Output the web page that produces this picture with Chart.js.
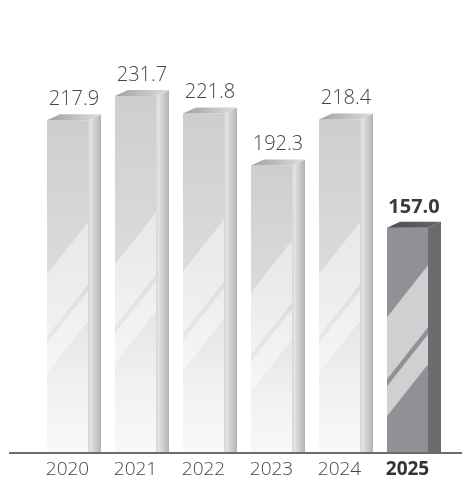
<!DOCTYPE html>
<html>
<head>
<meta charset="utf-8">
<script src="https://cdn.jsdelivr.net/npm/chart.js@4/dist/chart.umd.min.js"></script>
<style>
  html, body { margin: 0; padding: 0; background: #ffffff; }
  #wrap { width: 462px; height: 477px; position: relative; }
</style>
</head>
<body>
<div id="wrap"><canvas id="c" width="462" height="477"></canvas></div>
<script>
// Annual values
const years = ['2020', '2021', '2022', '2023', '2024', '2025'];
const values = [217.9, 231.7, 221.8, 192.3, 218.4, 157.0];
const valueLabels = ['217.9', '231.7', '221.8', '192.3', '218.4', '157.0'];
const highlightIndex = 5;

const DEPTH_X = 13;
const DEPTH_Y = 6;

function frontFill(c) {
  const chart = c.chart;
  if (!chart.chartArea || c.raw === undefined) return '#d0d1d3';
  const top = chart.scales.y.getPixelForValue(c.raw);
  const bottom = chart.chartArea.bottom;
  if (c.dataIndex === highlightIndex) return '#909194';
  const g = chart.ctx.createLinearGradient(0, top, 0, bottom);
  g.addColorStop(0, '#cdced0');
  g.addColorStop(0.45, '#dadbdd');
  g.addColorStop(0.8, '#f1f1f2');
  g.addColorStop(1, '#f8f8f9');
  return g;
}

// Side face, top face, glass streaks and value labels on top of each bar
const bar3d = {
  id: 'bar3d',
  afterDatasetsDraw(chart) {
    const ctx = chart.ctx;
    const area = chart.chartArea;
    const meta = chart.getDatasetMeta(0);
    meta.data.forEach((bar, i) => {
      const p = bar.getProps(['x', 'y', 'base', 'width'], true);
      const L = p.x - p.width / 2, R = p.x + p.width / 2;
      const T = p.y, B = Math.min(p.base, area.bottom);
      const h = B - T;
      const dark = i === highlightIndex;
      ctx.save();

      // streaks on the front face
      ctx.save();
      ctx.beginPath();
      ctx.rect(L, T, p.width, h);
      ctx.clip();
      const t1 = 0.4 * h + 97;
      const run = 52;
      const bands = [[t1, t1 - 62], [t1 - 69, t1 - 99]];
      bands.forEach(([a, b]) => {
        ctx.beginPath();
        ctx.moveTo(R, B - a);
        ctx.lineTo(L, B - a + run);
        ctx.lineTo(L, B - b + run);
        ctx.lineTo(R, B - b);
        ctx.closePath();
        ctx.fillStyle = dark ? '#cfd0d2' : 'rgba(255,255,255,0.45)';
        ctx.fill();
      });
      ctx.restore();

      // side face
      const sg = ctx.createLinearGradient(R, 0, R + DEPTH_X, 0);
      if (dark) {
        sg.addColorStop(0, '#6c6d70');
        sg.addColorStop(1, '#68696c');
      } else {
        sg.addColorStop(0, '#d4d5d7');
        sg.addColorStop(0.2, '#e4e4e6');
        sg.addColorStop(0.6, '#c9cacc');
        sg.addColorStop(1, '#b3b4b7');
      }
      ctx.beginPath();
      ctx.moveTo(R, T);
      ctx.lineTo(R + DEPTH_X, T - DEPTH_Y);
      ctx.lineTo(R + DEPTH_X, B);
      ctx.lineTo(R, B);
      ctx.closePath();
      ctx.fillStyle = sg;
      ctx.fill();

      // top face
      const tg = ctx.createLinearGradient(L, 0, R + DEPTH_X, 0);
      if (dark) {
        tg.addColorStop(0, '#4e4f51');
        tg.addColorStop(1, '#636466');
      } else {
        tg.addColorStop(0, '#9fa0a2');
        tg.addColorStop(0.6, '#c4c5c7');
        tg.addColorStop(1, '#dcdddf');
      }
      ctx.beginPath();
      ctx.moveTo(L, T);
      ctx.lineTo(L + DEPTH_X, T - DEPTH_Y);
      ctx.lineTo(R + DEPTH_X, T - DEPTH_Y);
      ctx.lineTo(R, T);
      ctx.closePath();
      ctx.fillStyle = tg;
      ctx.fill();

      // value label
      ctx.font = (dark ? 'bold ' : '300 ') + '20px "Open Sans"';
      ctx.fillStyle = dark ? '#3a3a3a' : '#454545';
      ctx.textAlign = 'center';
      ctx.textBaseline = 'alphabetic';
      ctx.fillText(valueLabels[i], L + (p.width + DEPTH_X) / 2, T - 15);
      ctx.restore();
    });

    // baseline
    ctx.save();
    ctx.fillStyle = '#6b6c6e';
    ctx.fillRect(9, area.bottom, 453, 2);
    ctx.restore();
  }
};

new Chart(document.getElementById('c'), {
  type: 'bar',
  data: {
    labels: years,
    datasets: [{
      data: values,
      backgroundColor: frontFill,
      borderWidth: 0,
      categoryPercentage: 1,
      barPercentage: 41 / 68
    }]
  },
  options: {
    responsive: false,
    animation: false,
    events: [],
    layout: { padding: { top: 10.65, left: 33.5, right: 20.5, bottom: 0 } },
    plugins: { legend: { display: false }, tooltip: { enabled: false } },
    scales: {
      y: { display: false, min: 30, max: 280 },
      x: {
        grid: { display: false, drawTicks: false },
        border: { display: false },
        afterFit(scale) { scale.height = 25; },
        ticks: {
          padding: 6,
          maxRotation: 0,
          color: (c) => c.index === highlightIndex ? '#333333' : '#454545',
          font: (c) => ({ family: '"Open Sans"', size: 19, weight: c.index === highlightIndex ? 'bold' : '300' })
        }
      }
    }
  },
  plugins: [bar3d]
});
</script>
</body>
</html>
